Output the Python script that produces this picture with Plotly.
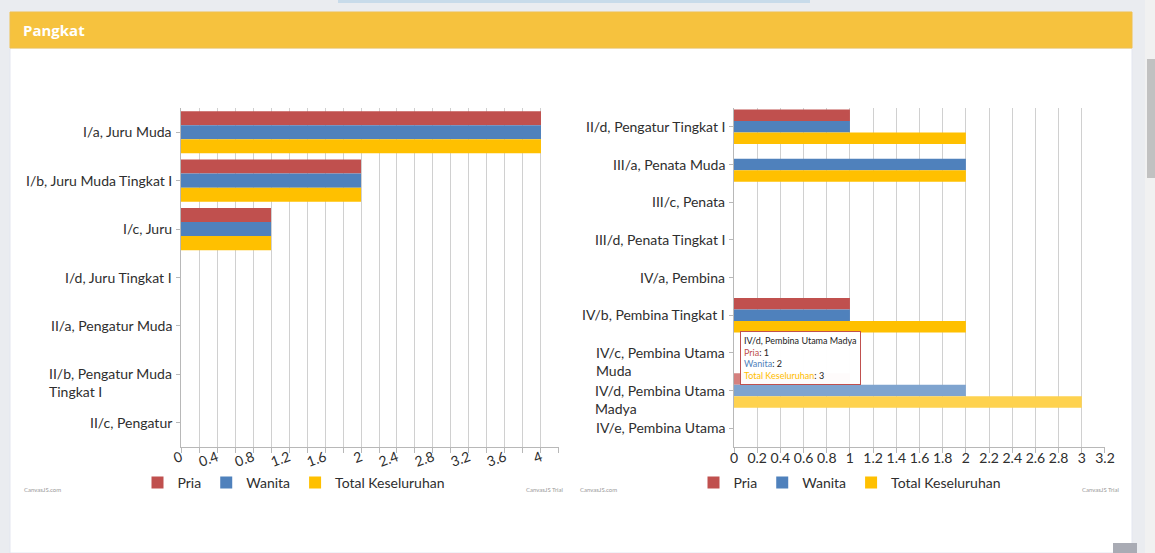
import plotly.graph_objects as go

# ---------------- data ----------------
series_names = ["Pria", "Wanita", "Total Keseluruhan"]
series_colors = ["#c0504e", "#4f81bc", "#ffc000"]
highlight_colors = ["#d5817f", "#7fa4cf", "#fed24f"]

cat_left = ["I/a, Juru Muda", "I/b, Juru Muda Tingkat I", "I/c, Juru",
            "I/d, Juru Tingkat I", "II/a, Pengatur Muda",
            "II/b, Pengatur Muda Tingkat I", "II/c, Pengatur"]
label_left = ["I/a, Juru Muda", "I/b, Juru Muda Tingkat I", "I/c, Juru",
              "I/d, Juru Tingkat I", "II/a, Pengatur Muda",
              "II/b, Pengatur Muda<br>Tingkat I", "II/c, Pengatur"]
pria_left = [4, 2, 1, 0, 0, 0, 0]
wanita_left = [4, 2, 1, 0, 0, 0, 0]
total_left = [4, 2, 1, 0, 0, 0, 0]

cat_right = ["II/d, Pengatur Tingkat I", "III/a, Penata Muda", "III/c, Penata",
             "III/d, Penata Tingkat I", "IV/a, Pembina", "IV/b, Pembina Tingkat I",
             "IV/c, Pembina Utama Muda", "IV/d, Pembina Utama Madya",
             "IV/e, Pembina Utama"]
label_right = ["II/d, Pengatur Tingkat I", "III/a, Penata Muda", "III/c, Penata",
               "III/d, Penata Tingkat I", "IV/a, Pembina", "IV/b, Pembina Tingkat I",
               "IV/c, Pembina Utama<br>Muda", "IV/d, Pembina Utama<br>Madya",
               "IV/e, Pembina Utama"]
pria_right = [1, 0, 0, 0, 0, 1, 0, 1, 0]
wanita_right = [1, 2, 0, 0, 0, 1, 0, 2, 0]
total_right = [2, 2, 0, 0, 0, 2, 0, 3, 0]
highlighted = "IV/d, Pembina Utama Madya"

# ---------------- layout helpers ----------------
W, H = 1155, 553
def X(px):
    return px / W
def Y(py):
    return 1 - py / H

FONT = "Lato"
TXT = "#2e2e2e"

fig = go.Figure()

left_vals = [pria_left, wanita_left, total_left]
right_vals = [pria_right, wanita_right, total_right]

wl = 0.29
wr = 0.305
for i, name in enumerate(series_names):
    fig.add_trace(go.Bar(
        y=cat_left, x=left_vals[i], orientation="h", name=name,
        marker=dict(color=series_colors[i], line=dict(width=0)),
        width=wl, offset=-1.5 * wl + i * wl,
        xaxis="x", yaxis="y", legend="legend", hoverinfo="skip"))
for i, name in enumerate(series_names):
    cols = [highlight_colors[i] if c == highlighted else series_colors[i] for c in cat_right]
    fig.add_trace(go.Bar(
        y=cat_right, x=right_vals[i], orientation="h", name=name,
        marker=dict(color=cols, line=dict(width=0)),
        width=wr, offset=-1.5 * wr + i * wr,
        xaxis="x2", yaxis="y2", legend="legend2", hoverinfo="skip"))

grid = "#d0d0d0"
axline = "#b8b8b8"

xcommon = dict(showline=True, linecolor=axline, linewidth=1, showgrid=True,
               gridcolor=grid, gridwidth=1, zeroline=False, ticks="outside",
               ticklen=5, tickcolor=axline, tick0=0, automargin=False,
               tickfont=dict(family=FONT, size=14, color=TXT))
ycommon = dict(type="category", showline=True, linecolor=axline, linewidth=1,
               showgrid=False, zeroline=False, ticks="outside", ticklen=4,
               tickcolor=axline, showticklabels=False, categoryorder="array",
               automargin=False)

fig.update_layout(
    width=W, height=H, autosize=False,
    margin=dict(l=0, r=0, t=0, b=0, pad=0, autoexpand=False),
    paper_bgcolor="#eaecf0",
    plot_bgcolor="rgba(0,0,0,0)",
    barmode="group",
    showlegend=True,
    xaxis=dict(domain=[X(181), X(559)], range=[0, 4.2001], dtick=0.4,
               tickangle=-20, anchor="y", ticklabelstandoff=-9,
               minor=dict(dtick=0.2, tick0=0, ticks="outside", ticklen=5,
                          tickcolor=axline, showgrid=True, gridcolor=grid),
               **xcommon),
    yaxis=dict(domain=[Y(447), Y(108)], anchor="x", categoryarray=cat_left,
               range=[len(cat_left) - 0.5, -0.5], **ycommon),
    xaxis2=dict(domain=[X(734), X(1105)], range=[0, 3.2001], dtick=0.2,
                tickangle=0, anchor="y2", ticklabelstandoff=-7, **xcommon),
    yaxis2=dict(domain=[Y(447), Y(108)], anchor="x2", categoryarray=cat_right,
                range=[len(cat_right) - 0.5, -0.5], **ycommon),
    legend=dict(orientation="h", x=X(294), y=Y(483), xanchor="center",
                yanchor="middle", bgcolor="rgba(0,0,0,0)",
                font=dict(family=FONT, size=14, color=TXT)),
    legend2=dict(orientation="h", x=X(850), y=Y(483), xanchor="center",
                 yanchor="middle", bgcolor="rgba(0,0,0,0)",
                 font=dict(family=FONT, size=14, color=TXT)),
)

# ---------------- page / card decoration ----------------
shapes = [
    dict(type="rect", xref="paper", yref="paper", x0=X(338), x1=X(810),
         y0=Y(3), y1=Y(0), fillcolor="#c8dbea", line=dict(width=0), layer="below"),
    dict(type="rect", xref="paper", yref="paper", x0=X(10), x1=X(1132),
         y0=Y(553), y1=Y(48), fillcolor="#ffffff",
         line=dict(color="#e3e6f0", width=1), layer="below"),
    dict(type="rect", xref="paper", yref="paper", x0=X(10), x1=X(1132),
         y0=Y(48), y1=Y(12), fillcolor="#f6c23e",
         line=dict(color="#efc050", width=1), layer="below"),
    dict(type="rect", xref="paper", yref="paper", x0=X(1145), x1=X(1155),
         y0=Y(553), y1=Y(0), fillcolor="#f1f1f1", line=dict(width=0), layer="below"),
    dict(type="rect", xref="paper", yref="paper", x0=X(1147), x1=X(1155),
         y0=Y(178), y1=Y(59), fillcolor="#c1c1c1", line=dict(width=0), layer="below"),
    dict(type="rect", xref="paper", yref="paper", x0=X(1113), x1=X(1137),
         y0=Y(553), y1=Y(543), fillcolor="#a9abb4", line=dict(width=0), layer="above"),
]
fig.update_layout(shapes=shapes)

ann = []
ann.append(dict(text="<b>Pangkat</b>", xref="paper", yref="paper", x=X(21), y=Y(30),
                xanchor="left", yanchor="middle", showarrow=False,
                font=dict(family="Open Sans", size=15, color="#ffffff")))

# category labels (wrapped, left-aligned, first line on the tick)
for cats, labs, yref, xref in [(cat_left, label_left, "y", "x domain"),
                               (cat_right, label_right, "y2", "x2 domain")]:
    for c, lab in zip(cats, labs):
        ann.append(dict(text=lab, xref=xref, yref=yref, x=0, y=c,
                        xanchor="right", yanchor="top", align="left",
                        xshift=-7, yshift=11, showarrow=False,
                        font=dict(family=FONT, size=14, color=TXT)))

# credits
for xp, anchor, t in [(22, "left", "CanvasJS.com"), (565, "right", "CanvasJS Trial"),
                      (578, "left", "CanvasJS.com"), (1121, "right", "CanvasJS Trial")]:
    ann.append(dict(text=t, xref="paper", yref="paper", x=X(xp), y=Y(489),
                    xanchor=anchor, yanchor="middle", showarrow=False,
                    font=dict(family=FONT, size=6, color="#9a9a9a")))

# tooltip
hi = cat_right.index(highlighted)
tip = (highlighted + "<br>"
       + "<span style='color:%s'>%s</span>: %d<br>" % (series_colors[0], series_names[0], pria_right[hi])
       + "<span style='color:%s'>%s</span>: %d<br>" % (series_colors[1], series_names[1], wanita_right[hi])
       + "<span style='color:%s'>%s</span>: %d" % (series_colors[2], series_names[2], total_right[hi]))
ann.append(dict(text=tip, xref="paper", yref="paper", x=X(740), y=Y(331),
                xanchor="left", yanchor="top", align="left", showarrow=False,
                bgcolor="rgba(255,255,255,0.97)", bordercolor="#c0504e",
                borderwidth=1, borderpad=3,
                font=dict(family=FONT, size=9, color="#222222")))

fig.update_layout(annotations=ann)

fig.write_html("out.html",
               config={"displayModeBar": False, "responsive": False},
               post_script="document.body.style.margin='0px';"
                           "document.body.style.overflow='hidden';")
